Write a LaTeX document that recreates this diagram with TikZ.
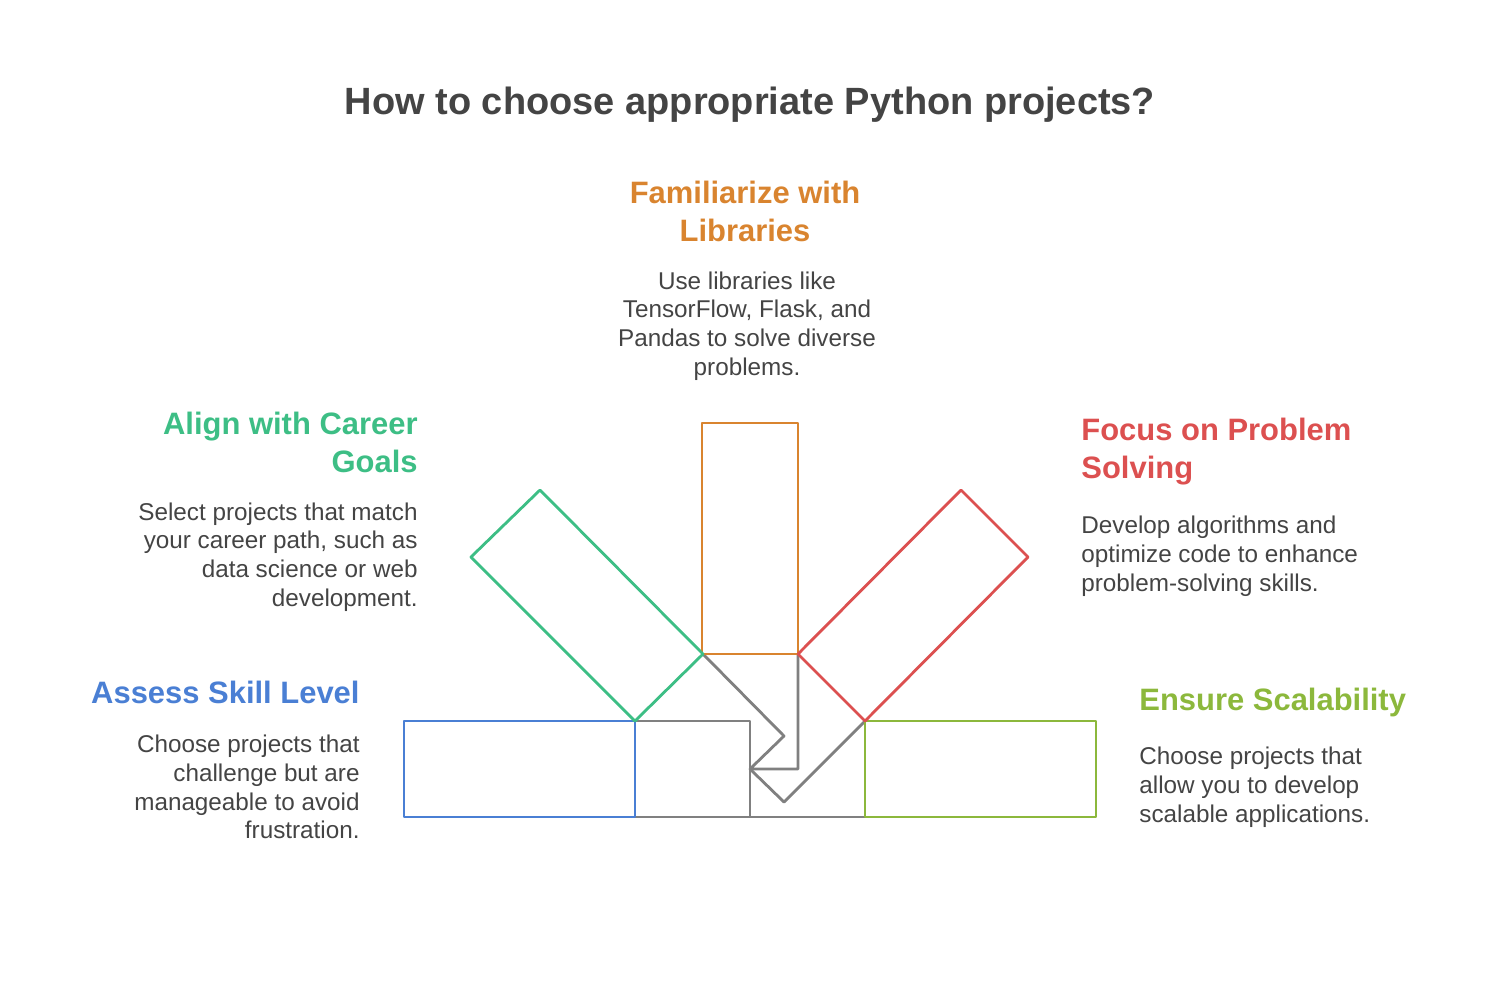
\documentclass[tikz,border=0pt]{standalone}
\usepackage{fontspec}
\setmainfont{Liberation Sans}
\usetikzlibrary{positioning}
\definecolor{cblue}{HTML}{4A7FD4}
\definecolor{cgreen}{HTML}{3DBE85}
\definecolor{corange}{HTML}{D9842F}
\definecolor{cred}{HTML}{DC5050}
\definecolor{clime}{HTML}{8CB83C}
\definecolor{cgrey}{HTML}{808080}
\definecolor{ctext}{HTML}{444444}
\begin{document}
\begin{tikzpicture}[x=0.01cm,y=-0.01cm,line width=0.8pt,line join=round,
  head/.style={font=\bfseries\fontsize{8.8}{10.8}\selectfont,inner sep=0pt},
  body/.style={font=\fontsize{6.9}{8.2}\selectfont,text=ctext,inner sep=0pt}]
\useasboundingbox (0,0) rectangle (1500,990);
%%First place the corners
\coordinate (g1) at (635,721);
\coordinate (g2) at (703,654);
\coordinate (g3) at (540,490);
\coordinate (g4) at (471,557);
\coordinate (o1) at (798,654);
\coordinate (r1) at (865,721);
\coordinate (r2) at (1028,557);
\coordinate (r3) at (961,490);
\coordinate (m1) at (750,721);
\coordinate (m2) at (750,817);
\coordinate (m3) at (750,769);
\coordinate (p1) at (784,736);
\coordinate (p2) at (798,769);
\coordinate (p3) at (784,802);
\coordinate (b1) at (635,817);
\coordinate (b2) at (865,817);
%%Draw the grey core
\draw[cgrey] (g1) -- (m1) -- (m2);
\draw[cgrey] (b1) -- (b2);
\draw[cgrey] (g2) -- (p1) -- (m3) -- (p2) -- (o1);
\draw[cgrey] (r1) -- (p3) -- (m3);
%%Draw the coloured boxes
\draw[cblue] (404,721) rectangle (b1);
\draw[clime] (r1) rectangle (1096,817);
\draw[corange] (702,423) rectangle (o1);
\draw[cgreen] (g1) -- (g2) -- (g3) -- (g4) -- cycle;
\draw[cred] (o1) -- (r1) -- (r2) -- (r3) -- cycle;
%%Place the texts
\node (title) at (750,105) [font=\bfseries\fontsize{10.8}{13}\selectfont,text=ctext] {How to choose appropriate Python projects?};
\node (lib) at (745,211) [head,text=corange,align=center] {Familiarize with\\Libraries};
\node (libtxt) at (747,326) [body,align=center] {Use libraries like\\TensorFlow, Flask, and\\Pandas to solve diverse\\problems.};
\node (car) at (419,442) [head,text=cgreen,align=right,anchor=east] {Align with Career\\Goals};
\node (cartxt) at (419,557) [body,align=right,anchor=east] {Select projects that match\\your career path, such as\\data science or web\\development.};
\node (prob) at (1080,452) [head,text=cred,align=left,anchor=west] {Focus on Problem\\Solving};
\node (probtxt) at (1080,556) [body,align=left,anchor=west] {Develop algorithms and\\optimize code to enhance\\problem-solving skills.};
\node (skill) at (361,692) [head,text=cblue,anchor=east] {Assess Skill Level};
\node (skilltxt) at (361,787) [body,align=right,anchor=east] {Choose projects that\\challenge but are\\manageable to avoid\\frustration.};
\node (scal) at (1138,702) [head,text=clime,anchor=west] {Ensure Scalability};
\node (scaltxt) at (1138,787) [body,align=left,anchor=west] {Choose projects that\\allow you to develop\\scalable applications.};
\end{tikzpicture}
\end{document}
